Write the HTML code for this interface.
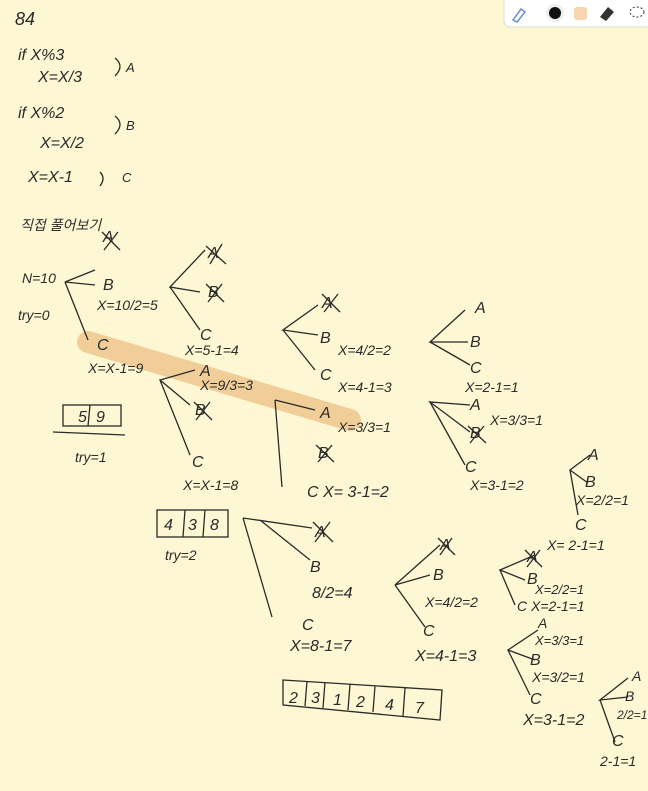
<!DOCTYPE html>
<html><head><meta charset="utf-8"><style>
html,body{margin:0;padding:0;background:#fdf7d3;}
svg{display:block;}
text{font-family:"Liberation Sans","Noto Sans CJK KR",sans-serif;fill:#2a2a2a;font-style:italic;}
</style></head><body>
<svg width="648" height="791" viewBox="0 0 648 791">
<rect width="648" height="791" fill="#fdf7d3"/>
<g>
<rect x="504" y="-4" width="150" height="31" rx="6" fill="#fff" stroke="#ddd"/>
<path d="M513 20 L521 9 L525 12 L517 22 Z" fill="none" stroke="#6a8fd8" stroke-width="1.5"/>
<circle cx="555" cy="13" r="9" fill="#eee"/>
<circle cx="555" cy="13" r="6" fill="#111"/>
<rect x="574" y="7" width="13" height="13" rx="3" fill="#f6d5b0"/>
<path d="M600 17 L608 7 L614 12 L606 21 Z" fill="#333"/>
<ellipse cx="637" cy="12" rx="7" ry="5" fill="none" stroke="#333" stroke-dasharray="2 2"/>
</g>
<path d="M88 342 L350 420" stroke="#f0c88e" stroke-width="22" stroke-linecap="round" opacity="0.85"/>
<g stroke="#2a2a2a" stroke-width="1.3" fill="none">
<path d="M95 270 L65 282 L95 285 M65 282 L88 340"/>
<path d="M205 250 L170 287 L200 292 M170 287 L200 330"/>
<path d="M318 305 L283 330 L318 335 M283 330 L315 370"/>
<path d="M465 310 L430 342 L468 342 M430 342 L470 365"/>
<path d="M195 370 L160 380 L190 405 M160 380 L190 455"/>
<path d="M315 410 L275 400 M275 400 L282 487"/>
<path d="M470 405 L430 402 L470 432 M430 402 L465 465"/>
<path d="M590 455 L570 470 L588 483 M570 470 L578 515"/>
<path d="M312 528 L243 518 M243 518 L272 617 M260 520 L310 560"/>
<path d="M440 545 L395 585 L430 575 M395 585 L425 627"/>
<path d="M535 555 L500 570 L525 580 M500 570 L515 605"/>
<path d="M538 630 L508 650 L535 660 M508 650 L530 695"/>
<path d="M628 678 L600 700 L628 697 M600 700 L615 742"/>
<path d="M115 58 Q125 66 115 76 M115 116 Q125 124 115 134 M100 172 Q106 178 100 186"/>
<path d="M53 432 L125 435"/>
</g>
<g stroke="#2a2a2a" stroke-width="1.3" fill="none">
<rect x="63" y="405" width="58" height="21"/><path d="M90 405 L88 426"/>
<rect x="157" y="510" width="71" height="27"/><path d="M185 510 L183 537 M205 510 L203 537"/>
<path d="M283 680 L442 690 L440 720 L283 705 Z M307 681 L305 706 M325 682 L323 708 M350 684 L348 710 M375 686 L373 712 M405 688 L403 716"/>
</g>
<g font-size="16">
<text x="15" y="25" font-size="18">84</text>
<text x="18" y="60">if  X%3</text><text x="38" y="82">X=X/3</text><text x="126" y="72" font-size="13">A</text>
<text x="18" y="118">if  X%2</text><text x="40" y="148">X=X/2</text><text x="126" y="130" font-size="13">B</text>
<text x="28" y="182">X=X-1</text><text x="122" y="182" font-size="13">C</text>
<text x="20" y="230" font-size="14">직접 풀어보기</text>
<text x="22" y="283" font-size="14">N=10</text><text x="18" y="320" font-size="14">try=0</text>
<text x="103" y="242">A</text><text x="103" y="290">B</text><text x="97" y="310" font-size="14">X=10/2=5</text>
<text x="97" y="350">C</text><text x="88" y="373" font-size="14">X=X-1=9</text>
<text x="78" y="422">5</text><text x="96" y="422">9</text><text x="75" y="462" font-size="14">try=1</text>
<text x="208" y="258">A</text><text x="208" y="297">B</text><text x="200" y="340">C</text><text x="185" y="355" font-size="14">X=5-1=4</text>
<text x="322" y="308">A</text><text x="320" y="343">B</text><text x="338" y="355" font-size="14">X=4/2=2</text><text x="320" y="380">C</text><text x="338" y="392" font-size="14">X=4-1=3</text>
<text x="475" y="313">A</text><text x="470" y="347">B</text><text x="470" y="373">C</text><text x="465" y="392" font-size="14">X=2-1=1</text>
<text x="200" y="376">A</text><text x="200" y="390" font-size="14">X=9/3=3</text><text x="195" y="415">B</text><text x="192" y="467">C</text><text x="183" y="490" font-size="14">X=X-1=8</text>
<text x="320" y="418">A</text><text x="338" y="432" font-size="14">X=3/3=1</text><text x="318" y="458">B</text><text x="307" y="497">C  X= 3-1=2</text>
<text x="470" y="410">A</text><text x="490" y="425" font-size="14">X=3/3=1</text><text x="470" y="438">B</text><text x="465" y="472">C</text><text x="470" y="490" font-size="14">X=3-1=2</text>
<text x="588" y="460">A</text><text x="585" y="487">B</text><text x="576" y="505" font-size="14">X=2/2=1</text><text x="575" y="530">C</text><text x="547" y="550" font-size="14">X= 2-1=1</text>
<text x="164" y="530">4</text><text x="188" y="530">3</text><text x="210" y="530">8</text><text x="165" y="560" font-size="14">try=2</text>
<text x="315" y="537">A</text><text x="310" y="572">B</text><text x="312" y="598">8/2=4</text><text x="302" y="630">C</text><text x="290" y="651">X=8-1=7</text>
<text x="440" y="550">A</text><text x="433" y="580">B</text><text x="425" y="607" font-size="14">X=4/2=2</text><text x="423" y="636">C</text><text x="415" y="661">X=4-1=3</text>
<text x="527" y="562">A</text><text x="527" y="584">B</text><text x="535" y="594" font-size="13">X=2/2=1</text><text x="517" y="611" font-size="14">C X=2-1=1</text>
<text x="538" y="628" font-size="14">A</text><text x="535" y="645" font-size="13">X=3/3=1</text><text x="530" y="665">B</text><text x="532" y="682" font-size="14">X=3/2=1</text><text x="530" y="704">C</text><text x="523" y="725">X=3-1=2</text>
<text x="632" y="681" font-size="14">A</text><text x="625" y="701" font-size="14">B</text><text x="617" y="719" font-size="12">2/2=1</text><text x="612" y="746">C</text><text x="600" y="766" font-size="14">2-1=1</text>
<text x="289" y="703">2</text><text x="311" y="703">3</text><text x="333" y="705">1</text><text x="356" y="707">2</text><text x="385" y="710">4</text><text x="415" y="713">7</text>
</g>
<g stroke="#2a2a2a" stroke-width="1.3">
<path d="M102 232 L120 250 M118 232 L104 250"/><path d="M206 246 L226 264 M222 244 L210 264"/><path d="M206 284 L224 302 M222 284 L208 302"/>
<path d="M322 294 L340 312 M338 294 L324 312"/><path d="M194 402 L212 420 M210 402 L196 420"/><path d="M316 445 L334 462 M332 445 L318 462"/>
<path d="M468 426 L486 443 M484 426 L470 443"/><path d="M313 522 L333 542 M330 522 L315 542"/><path d="M438 538 L455 555 M452 538 L440 555"/><path d="M525 550 L542 567 M540 550 L527 567"/>
</g>
</svg>
</body></html>
